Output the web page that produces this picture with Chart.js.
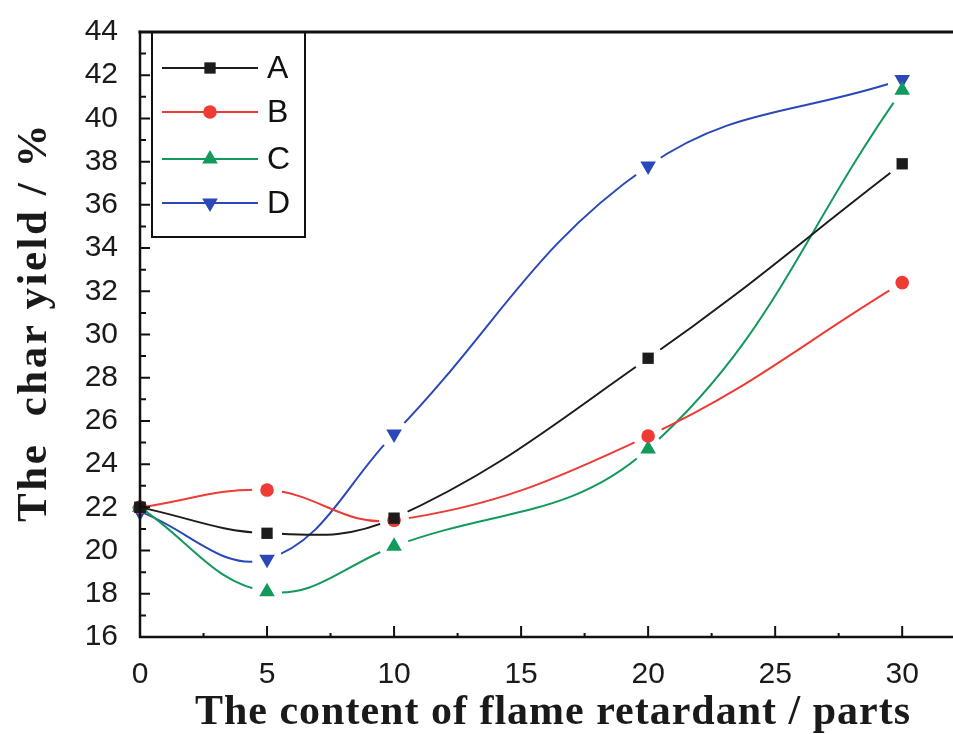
<!DOCTYPE html>
<html>
<head>
<meta charset="utf-8">
<script src="https://cdn.jsdelivr.net/npm/chart.js@4.4.1/dist/chart.umd.min.js"></script>
<style>
  html, body { margin: 0; padding: 0; background: #fff; }
  #wrap { width: 953px; height: 734px; }
</style>
</head>
<body>
<div id="wrap"><canvas id="chart" width="953" height="734"></canvas></div>
<script>
// values
const contents = [0, 5, 10, 20, 30]
const seriesA = [22.0, 20.8, 21.5, 28.9, 37.9]
const seriesB = [22.0, 22.8, 21.4, 25.3, 32.4]
const seriesC = [22.0, 18.1, 20.2, 24.7, 41.3]
const seriesD = [21.8, 19.6, 25.4, 37.8, 41.8]
const seriesNames = ['A', 'B', 'C', 'D']
const xTitle = 'The content of flame retardant / parts'
const yTitle = 'The  char yield / %'

const colors = ['#1c1c1c', '#ef3b36', '#129a5c', '#2a48b8']
const markers = ['rect', 'circle', 'triangle', 'triangle']
const markerRot = [0, 0, 0, 180]
const markerSize = [8, 6.8, 9, 9]
const GAP = 15

const toPoints = vals => vals.map((v, i) => ({ x: contents[i], y: v }))

const datasets = [seriesA, seriesB, seriesC, seriesD].map((vals, i) => ({
  label: seriesNames[i],
  data: toPoints(vals),
  showLine: true,
  tension: 0.4,
  clip: false,
  borderColor: colors[i],
  backgroundColor: colors[i],
  borderWidth: 2,
  pointStyle: markers[i],
  pointRotation: markerRot[i],
  pointRadius: markerSize[i],
  pointBorderWidth: 0,
  pointBackgroundColor: colors[i]
}))

// Origin style: the line breaks around its own markers
const gapPlugin = {
  id: 'gaps',
  beforeDatasetDraw (chart, args) {
    const ctx = chart.ctx
    const pts = args.meta.data
    ctx.save()
    const p = new Path2D()
    p.rect(0, 0, chart.width, chart.height)
    for (let i = 1; i < pts.length; i++) {
      p.moveTo(pts[i].x + GAP, pts[i].y)
      p.arc(pts[i].x, pts[i].y, GAP, 0, Math.PI * 2, true)
    }
    ctx.clip(p, 'evenodd')
  },
  afterDatasetDraw (chart, args) {
    chart.ctx.restore()
    args.meta.data.forEach(el => el.draw(chart.ctx, chart.chartArea))
  }
}

const framePlugin = {
  id: 'frame',
  afterDraw (chart) {
    const ctx = chart.ctx
    const area = chart.chartArea
    const xs = chart.scales.x
    const ys = chart.scales.y
    ctx.save()
    ctx.strokeStyle = '#111'
    ctx.lineCap = 'square'
    // axes
    ctx.lineWidth = 2.5
    ctx.beginPath()
    ctx.moveTo(area.left, area.top)
    ctx.lineTo(area.left, area.bottom)
    ctx.lineTo(area.right, area.bottom)
    ctx.stroke()
    ctx.lineWidth = 3
    ctx.beginPath()
    ctx.moveTo(area.left, area.top)
    ctx.lineTo(area.right, area.top)
    ctx.stroke()
    // inward ticks
    ctx.lineWidth = 2
    ctx.beginPath()
    for (let v = 0; v <= 30; v += 2.5) {
      const px = xs.getPixelForValue(v)
      const len = v % 5 === 0 ? 10 : 3
      ctx.moveTo(px, area.bottom)
      ctx.lineTo(px, area.bottom - len)
    }
    for (let v = 16; v <= 44; v += 1) {
      const py = ys.getPixelForValue(v)
      const len = v % 2 === 0 ? 9 : 5
      ctx.moveTo(area.left, py)
      ctx.lineTo(area.left + len, py)
    }
    ctx.stroke()

    // legend
    const lx = 152, ly = 32, lw = 153, lh = 205
    ctx.lineWidth = 2
    ctx.strokeRect(lx, ly, lw, lh)
    const rows = [68, 112, 159, 203]
    ctx.font = '32px "Liberation Sans", Arial, sans-serif'
    ctx.textBaseline = 'middle'
    ctx.textAlign = 'left'
    chart.data.datasets.forEach((ds, i) => {
      const y = rows[i]
      ctx.strokeStyle = ds.borderColor
      ctx.lineWidth = 2
      ctx.beginPath()
      ctx.moveTo(163, y)
      ctx.lineTo(257, y)
      ctx.stroke()
      ctx.fillStyle = ds.borderColor
      Chart.helpers.drawPoint(ctx, {
        pointStyle: ds.pointStyle,
        rotation: ds.pointRotation,
        radius: ds.pointRadius,
        borderWidth: 0
      }, 210, y)
      ctx.fillStyle = '#111'
      ctx.fillText(ds.label, 267, y + 1)
    })

    // axis titles
    ctx.fillStyle = '#1a1a1a'
    ctx.textAlign = 'center'
    ctx.textBaseline = 'alphabetic'
    ctx.font = 'bold 42px "Liberation Serif", "Times New Roman", serif'
    ctx.letterSpacing = '1px'
    ctx.fillText(xTitle, 553, 724)
    ctx.font = 'bold 43px "Liberation Serif", "Times New Roman", serif'
    ctx.letterSpacing = '2.5px'
    ctx.translate(46, 322)
    ctx.rotate(-Math.PI / 2)
    ctx.fillText(yTitle, 0, 0)
    ctx.restore()
  }
}

new Chart(document.getElementById('chart'), {
  type: 'scatter',
  data: { datasets },
  plugins: [gapPlugin, framePlugin],
  options: {
    responsive: false,
    animation: false,
    layout: { autoPadding: false, padding: { top: 28, right: 0, left: 0, bottom: 0 } },
    plugins: {
      legend: { display: false },
      tooltip: { enabled: false }
    },
    scales: {
      x: {
        type: 'linear',
        min: 0,
        max: 32,
        afterFit (s) { s.height = 97 },
        grid: { display: false },
        border: { display: false },
        ticks: {
          stepSize: 5,
          includeBounds: false,
          padding: 12,
          color: '#1a1a1a',
          font: { size: 30, family: '"Liberation Sans", Arial, sans-serif' }
        }
      },
      y: {
        type: 'linear',
        min: 16,
        max: 44,
        afterFit (s) { s.width = 140 },
        grid: { display: false },
        border: { display: false },
        ticks: {
          stepSize: 2,
          padding: 14,
          color: '#1a1a1a',
          font: { size: 30, family: '"Liberation Sans", Arial, sans-serif' }
        }
      }
    }
  }
})
</script>
</body>
</html>
